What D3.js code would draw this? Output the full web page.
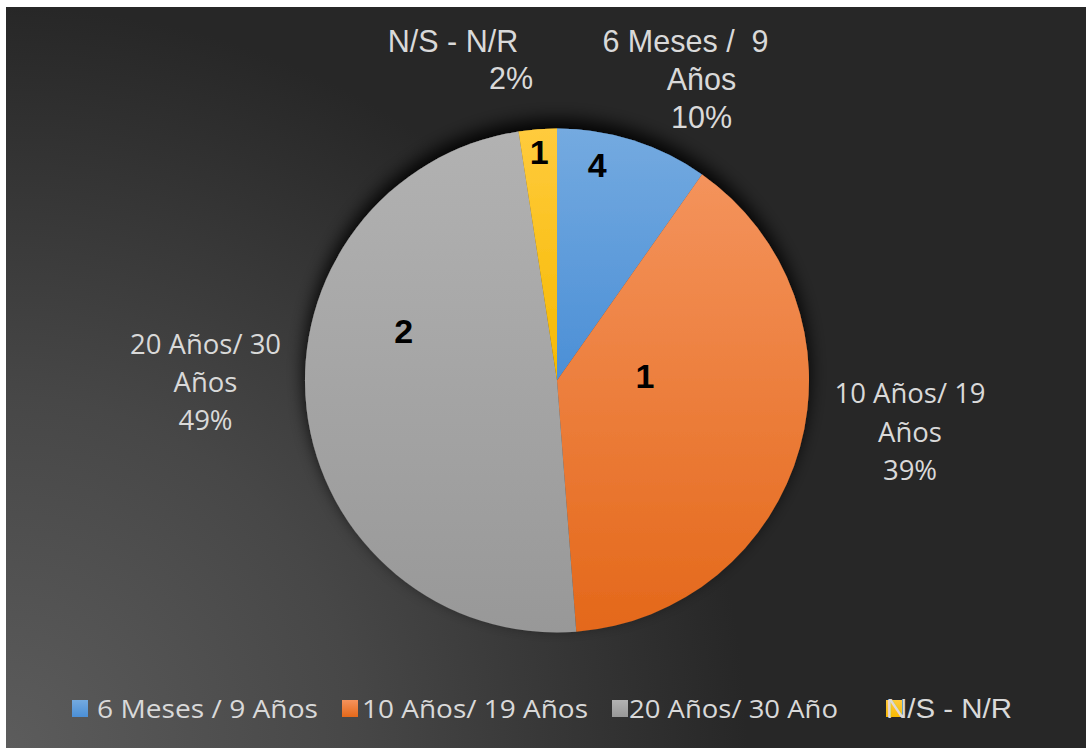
<!DOCTYPE html>
<html>
<head>
<meta charset="utf-8">
<script src="https://cdn.jsdelivr.net/npm/d3@7"></script>
<style>
  html, body { margin: 0; padding: 0; background: #ffffff; }
  svg { display: block; }
</style>
</head>
<body>
<div id="chart"></div>
<script>
// data
var categories = ['6 Meses / 9 Años', '10 Años/ 19 Años', '20 Años/ 30 Año', 'N/S - N/R'];
var values = [4, 16, 20, 1];
var innerLabels = ['4', '1', '2', '1'];
var outerLines = [['6 Meses /  9', 'Años'], ['10 Años/ 19', 'Años'], ['20 Años/ 30', 'Años'], ['N/S - N/R']];

// layout
var width = 1086, height = 748,
    cx = 557, cy = 380.5, radius = 252;

// gradient colours per slice [top, bottom]
var colors = [['#74aae0', '#4b8fd6'], ['#f4935c', '#e4681a'], ['#b2b2b2', '#989898'], ['#ffcb3d', '#f6b900']];

// label placement: t = fraction across slice, r = fraction of radius
var innerPos = [{t: 0.3, r: 0.87}, {t: 0.369, r: 0.35}, {t: 0.64, r: 0.64}, {t: 0.49, r: 0.91}];
// outer labels: centre of the last (percentage) line relative to pie centre, plus first-line shift
var outerPos = [
  {x: 144.5, y: -252.5, font: 'Liberation Sans', size: 30.5, lh: 38, dx0: -16},
  {x: 353, y: 99.5, font: 'Open Sans', size: 27.5, lh: 38.5, dx0: 0},
  {x: -351.5, y: 49.5, font: 'Open Sans', size: 27.5, lh: 38, dx0: 0},
  {x: -46, y: -291.5, font: 'Liberation Sans', size: 30.5, lh: 37, dx0: -58}
];
var legendPos = [
  {sx: 72, tx: 97, tw: 221},
  {sx: 342, tx: 362, tw: 226},
  {sx: 612, tx: 629, tw: 209},
  {sx: 886, tx: 886, tw: 126}
];

var svg = d3.select('#chart').append('svg')
    .attr('width', width)
    .attr('height', height);

var defs = svg.append('defs');

var bg = defs.append('radialGradient')
    .attr('id', 'bg')
    .attr('gradientUnits', 'userSpaceOnUse')
    .attr('cx', 6).attr('cy', 748).attr('r', 780);
bg.append('stop').attr('offset', 0).attr('stop-color', '#5c5c5c');
bg.append('stop').attr('offset', 0.45).attr('stop-color', '#474747');
bg.append('stop').attr('offset', 0.95).attr('stop-color', '#272727');
bg.append('stop').attr('offset', 1).attr('stop-color', '#272727');

colors.forEach(function (c, i) {
  var g = defs.append('linearGradient')
      .attr('id', 'slice' + i)
      .attr('x1', 0).attr('y1', 0).attr('x2', 0).attr('y2', 1);
  g.append('stop').attr('offset', 0).attr('stop-color', c[0]);
  g.append('stop').attr('offset', 1).attr('stop-color', c[1]);
});

var shadow = defs.append('filter')
    .attr('id', 'shadow')
    .attr('x', '-20%').attr('y', '-20%').attr('width', '140%').attr('height', '140%');
shadow.append('feDropShadow')
    .attr('dx', 0).attr('dy', -9)
    .attr('stdDeviation', 9)
    .attr('flood-color', '#000')
    .attr('flood-opacity', 0.95);

// background
svg.append('rect')
    .attr('x', 6).attr('y', 7)
    .attr('width', width - 6).attr('height', height - 7)
    .attr('fill', 'url(#bg)');

var pie = d3.pie().sort(null).value(function (d) { return d; });
var arcs = pie(values);
var arc = d3.arc().innerRadius(0).outerRadius(radius);
var total = d3.sum(values);
var pct = d3.format('.0%');

var g = svg.append('g')
    .attr('transform', 'translate(' + cx + ',' + cy + ')');

g.append('g')
    .attr('filter', 'url(#shadow)')
  .selectAll('path')
  .data(arcs)
  .enter()
  .append('path')
    .attr('d', arc)
    .attr('fill', function (d, i) { return 'url(#slice' + i + ')'; });

// number labels inside the slices
g.selectAll('text.inner')
  .data(arcs)
  .enter()
  .append('text')
    .attr('class', 'inner')
    .attr('transform', function (d, i) {
      var p = innerPos[i];
      var a = d.startAngle + (d.endAngle - d.startAngle) * p.t;
      var r = radius * p.r;
      return 'translate(' + (r * Math.sin(a)) + ',' + (-r * Math.cos(a)) + ')';
    })
    .attr('text-anchor', 'middle')
    .attr('dy', '0.36em')
    .style('font-family', 'Liberation Sans, Arial, sans-serif')
    .style('font-weight', 'bold')
    .style('font-size', '34px')
    .attr('fill', '#000')
    .text(function (d, i) { return innerLabels[i]; });

// category + percentage labels outside
var outer = g.selectAll('text.outer')
  .data(arcs)
  .enter()
  .append('text')
    .attr('class', 'outer')
    .attr('text-anchor', 'middle')
    .attr('fill', '#d9d9d9')
    .style('font-family', function (d, i) { return outerPos[i].font + ', sans-serif'; })
    .style('font-size', function (d, i) { return outerPos[i].size + 'px'; })
    .attr('xml:space', 'preserve');

outer.each(function (d, i) {
  var p = outerPos[i];
  var lines = outerLines[i].concat([pct(d.value / total)]);
  var n = lines.length;
  d3.select(this).selectAll('tspan')
    .data(lines)
    .enter()
    .append('tspan')
      .attr('x', function (l, j) { return p.x + (j === 0 ? p.dx0 : 0); })
      .attr('y', function (l, j) { return p.y - (n - 1 - j) * p.lh; })
      .text(function (l) { return l; });
});

// legend
var legend = svg.append('g').attr('class', 'legend');
var item = legend.selectAll('g')
  .data(categories)
  .enter()
  .append('g');

item.append('rect')
    .attr('x', function (d, i) { return legendPos[i].sx; })
    .attr('y', 700)
    .attr('width', 16)
    .attr('height', 17)
    .attr('fill', function (d, i) { return 'url(#slice' + i + ')'; });

item.append('text')
    .attr('x', function (d, i) { return legendPos[i].tx; })
    .attr('y', 718)
    .attr('textLength', function (d, i) { return legendPos[i].tw; })
    .attr('lengthAdjust', 'spacingAndGlyphs')
    .attr('fill', '#d9d9d9')
    .style('font-family', function (d, i) { return i === 3 ? 'Liberation Sans, sans-serif' : 'Open Sans, sans-serif'; })
    .style('font-size', function (d, i) { return i === 3 ? '27px' : '25px'; })
    .text(function (d) { return d; });
</script>
</body>
</html>
